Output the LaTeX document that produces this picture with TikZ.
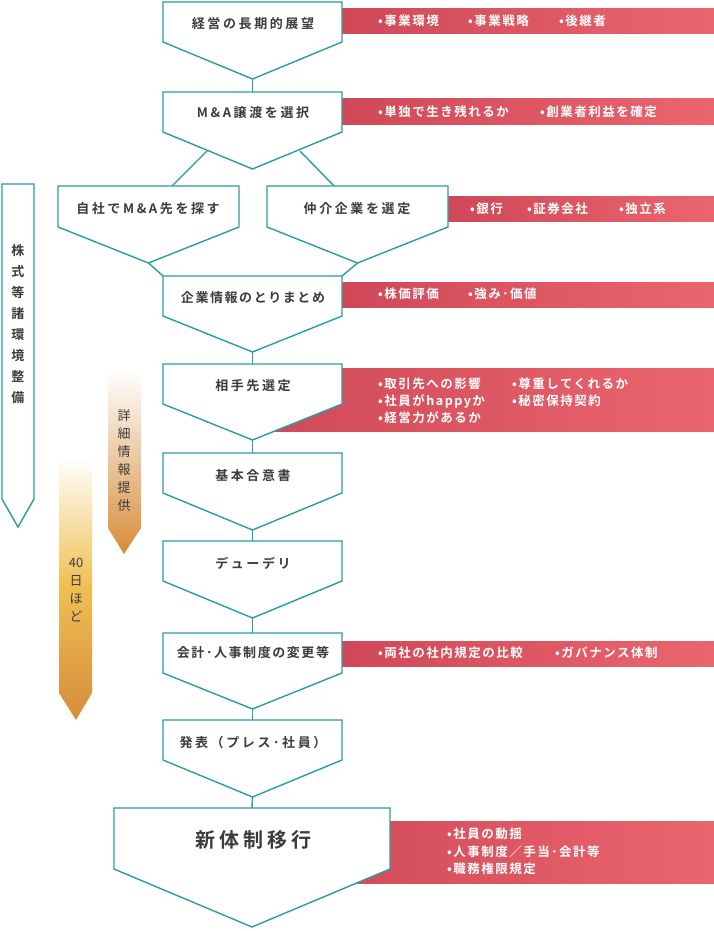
\documentclass[tikz,border=0pt]{standalone}
\usepackage{fontspec}
\setmainfont{Noto Sans CJK JP}[BoldFont={Noto Sans CJK JP Bold}]
\newfontfamily\spb{Noto Sans CJK JP Bold}[LetterSpace=20]
\newfontfamily\spr{Noto Sans CJK JP Bold}[LetterSpace=12]
\newfontfamily\spl{Noto Sans CJK JP}
\definecolor{teal}{RGB}{42,156,166}
\definecolor{txt}{RGB}{60,60,60}
\definecolor{redl}{RGB}{208,72,88}
\definecolor{redr}{RGB}{234,102,110}
\definecolor{org}{RGB}{214,140,58}
\definecolor{yel}{RGB}{240,192,84}
\newcommand\pent[6]{%
\draw[pent] (#2,#4) -- (#3,#4) -- (#3,#5) -- ({(#2+#3)/2},#6) -- (#2,#5) -- cycle;
\coordinate (#1t) at ({(#2+#3)/2},#4);
\coordinate (#1b) at ({(#2+#3)/2},#6);}
\begin{document}
\begin{tikzpicture}[x=1pt,y=-1pt,
 pent/.style={draw=teal,line width=1.4pt,fill=white,line join=miter},
 conn/.style={draw=teal,line width=1.4pt},
 lab/.style={text=txt,font=\spb\fontsize{13}{15}\selectfont,inner sep=0pt},
 rbar/.style={left color=redl,right color=redr,draw=none},
 rt/.style={text=white,font=\spr\fontsize{12.5}{14}\selectfont,anchor=west,inner sep=0pt},
 vt/.style={text=txt,font=\spl\fontsize{13}{18}\selectfont,align=center,inner sep=0pt}]
\useasboundingbox (0,0) rectangle (714,931);
% red bars
\fill[rbar] (342,9) rectangle (714,34);
\fill[rbar] (342,99) rectangle (714,125);
\fill[rbar] (448,196) rectangle (714,221);
\fill[rbar] (342,282) rectangle (714,307);
\fill[rbar] (250,368) rectangle (714,431);
\fill[rbar] (342,641) rectangle (714,666);
\fill[rbar] (300,821) rectangle (714,883);
% side arrows
\draw[teal,line width=1.4pt,fill=white] (2,184) -- (34,184) -- (34,499) -- (18,527) -- (2,499) -- cycle;
\node[vt,font=\bfseries\fontsize{13}{21}\selectfont] (side1) at (18,324) {株\\式\\等\\諸\\環\\境\\整\\備};
\shade[top color=white,bottom color=org] (108,370) -- (141,370) -- (141,528) -- (124,554) -- (108,528) -- cycle;
\node[vt] (side2) at (124,461) {詳\\細\\情\\報\\提\\供};
\shade[top color=white,bottom color=yel] (59,457) rectangle (92,585);
\shade[top color=yel,bottom color=org] (59,584.5) -- (92,584.5) -- (92,693) -- (76,720) -- (59,693) -- cycle;
\node[vt] (side3) at (76,590) {40\\日\\ほ\\ど};
% connectors
\coordinate (s2l) at (207,151); \coordinate (s2r) at (300,151);
\coordinate (s3c) at (172,186); \coordinate (s4c) at (334,186);
\coordinate (s5l) at (163,276); \coordinate (s5r) at (342,276);
\pent{a}{163}{342}{2}{42}{79}
\pent{b}{163}{342}{92}{132}{169}
\draw[conn] (s2l) -- (s3c); \draw[conn] (s2r) -- (s4c);
\draw[conn] (ab) -- (bt);
\pent{c}{58}{239}{186}{227}{263}
\pent{d}{267}{448}{186}{227}{263}
\draw[conn] (cb) -- (s5l); \draw[conn] (db) -- (s5r);
\pent{e}{163}{342}{276}{316}{352}
\pent{f}{163}{342}{364}{404}{440}
\pent{g}{163}{342}{453}{493}{530}
\pent{h}{163}{342}{541}{581}{618}
\pent{i}{163}{342}{633}{673}{709}
\pent{j}{163}{342}{720}{760}{797}
\pent{k}{114}{390}{808}{869}{927}
\draw[conn] (eb) -- (ft); \draw[conn] (fb) -- (gt); \draw[conn] (gb) -- (ht);
\draw[conn] (hb) -- (it); \draw[conn] (ib) -- (jt); \draw[conn] (jb) -- (kt);
% labels
\node[lab] (la) at (253,24) {経営の長期的展望};
\node[lab] (lb) at (253,113) {M\&A譲渡を選択};
\node[lab] (lc) at (148,209) {自社でM\&A先を探す};
\node[lab] (ld) at (357,209) {仲介企業を選定};
\node[lab,font=\spr\fontsize{13}{15}\selectfont] (le) at (253,298) {企業情報のとりまとめ};
\node[lab] (lf) at (253,386) {相手先選定};
\node[lab] (lg) at (253,476) {基本合意書};
\node[lab] (lh) at (253,563) {デューデリ};
\node[lab,font=\spr\fontsize{13}{15}\selectfont] (li) at (253,653) {会計･人事制度の変更等};
\node[lab] (lj) at (253,743) {発表（プレス･社員）};
\node[lab,font=\spb\fontsize{20}{22}\selectfont] (lk) at (253,840) {新体制移行};
% red texts
\node[rt] (r1a) at (378,21) {•事業環境};
\node[rt] (r1b) at (468,21) {•事業戦略};
\node[rt] (r1c) at (559,21) {•後継者};
\node[rt] (r2a) at (378,112) {•単独で生き残れるか};
\node[rt] (r2b) at (540,112) {•創業者利益を確定};
\node[rt] (r4a) at (470,209) {•銀行};
\node[rt] (r4b) at (527,209) {•証券会社};
\node[rt] (r4c) at (619,209) {•独立系};
\node[rt] (r5a) at (378,294) {•株価評価};
\node[rt] (r5b) at (468,294) {•強み･価値};
\node[rt] (r6a) at (378,384) {•取引先への影響};
\node[rt] (r6b) at (512,384) {•尊重してくれるか};
\node[rt] (r6c) at (378,401) {•社員がhappyか};
\node[rt] (r6d) at (512,401) {•秘密保持契約};
\node[rt] (r6e) at (378,418) {•経営力があるか};
\node[rt] (r9a) at (378,653) {•両社の社内規定の比較};
\node[rt] (r9b) at (555,653) {•ガバナンス体制};
\node[rt] (r11a) at (447,834) {•社員の動揺};
\node[rt] (r11b) at (447,852) {•人事制度／手当･会計等};
\node[rt] (r11c) at (447,869) {•職務権限規定};
\end{tikzpicture}
\end{document}
